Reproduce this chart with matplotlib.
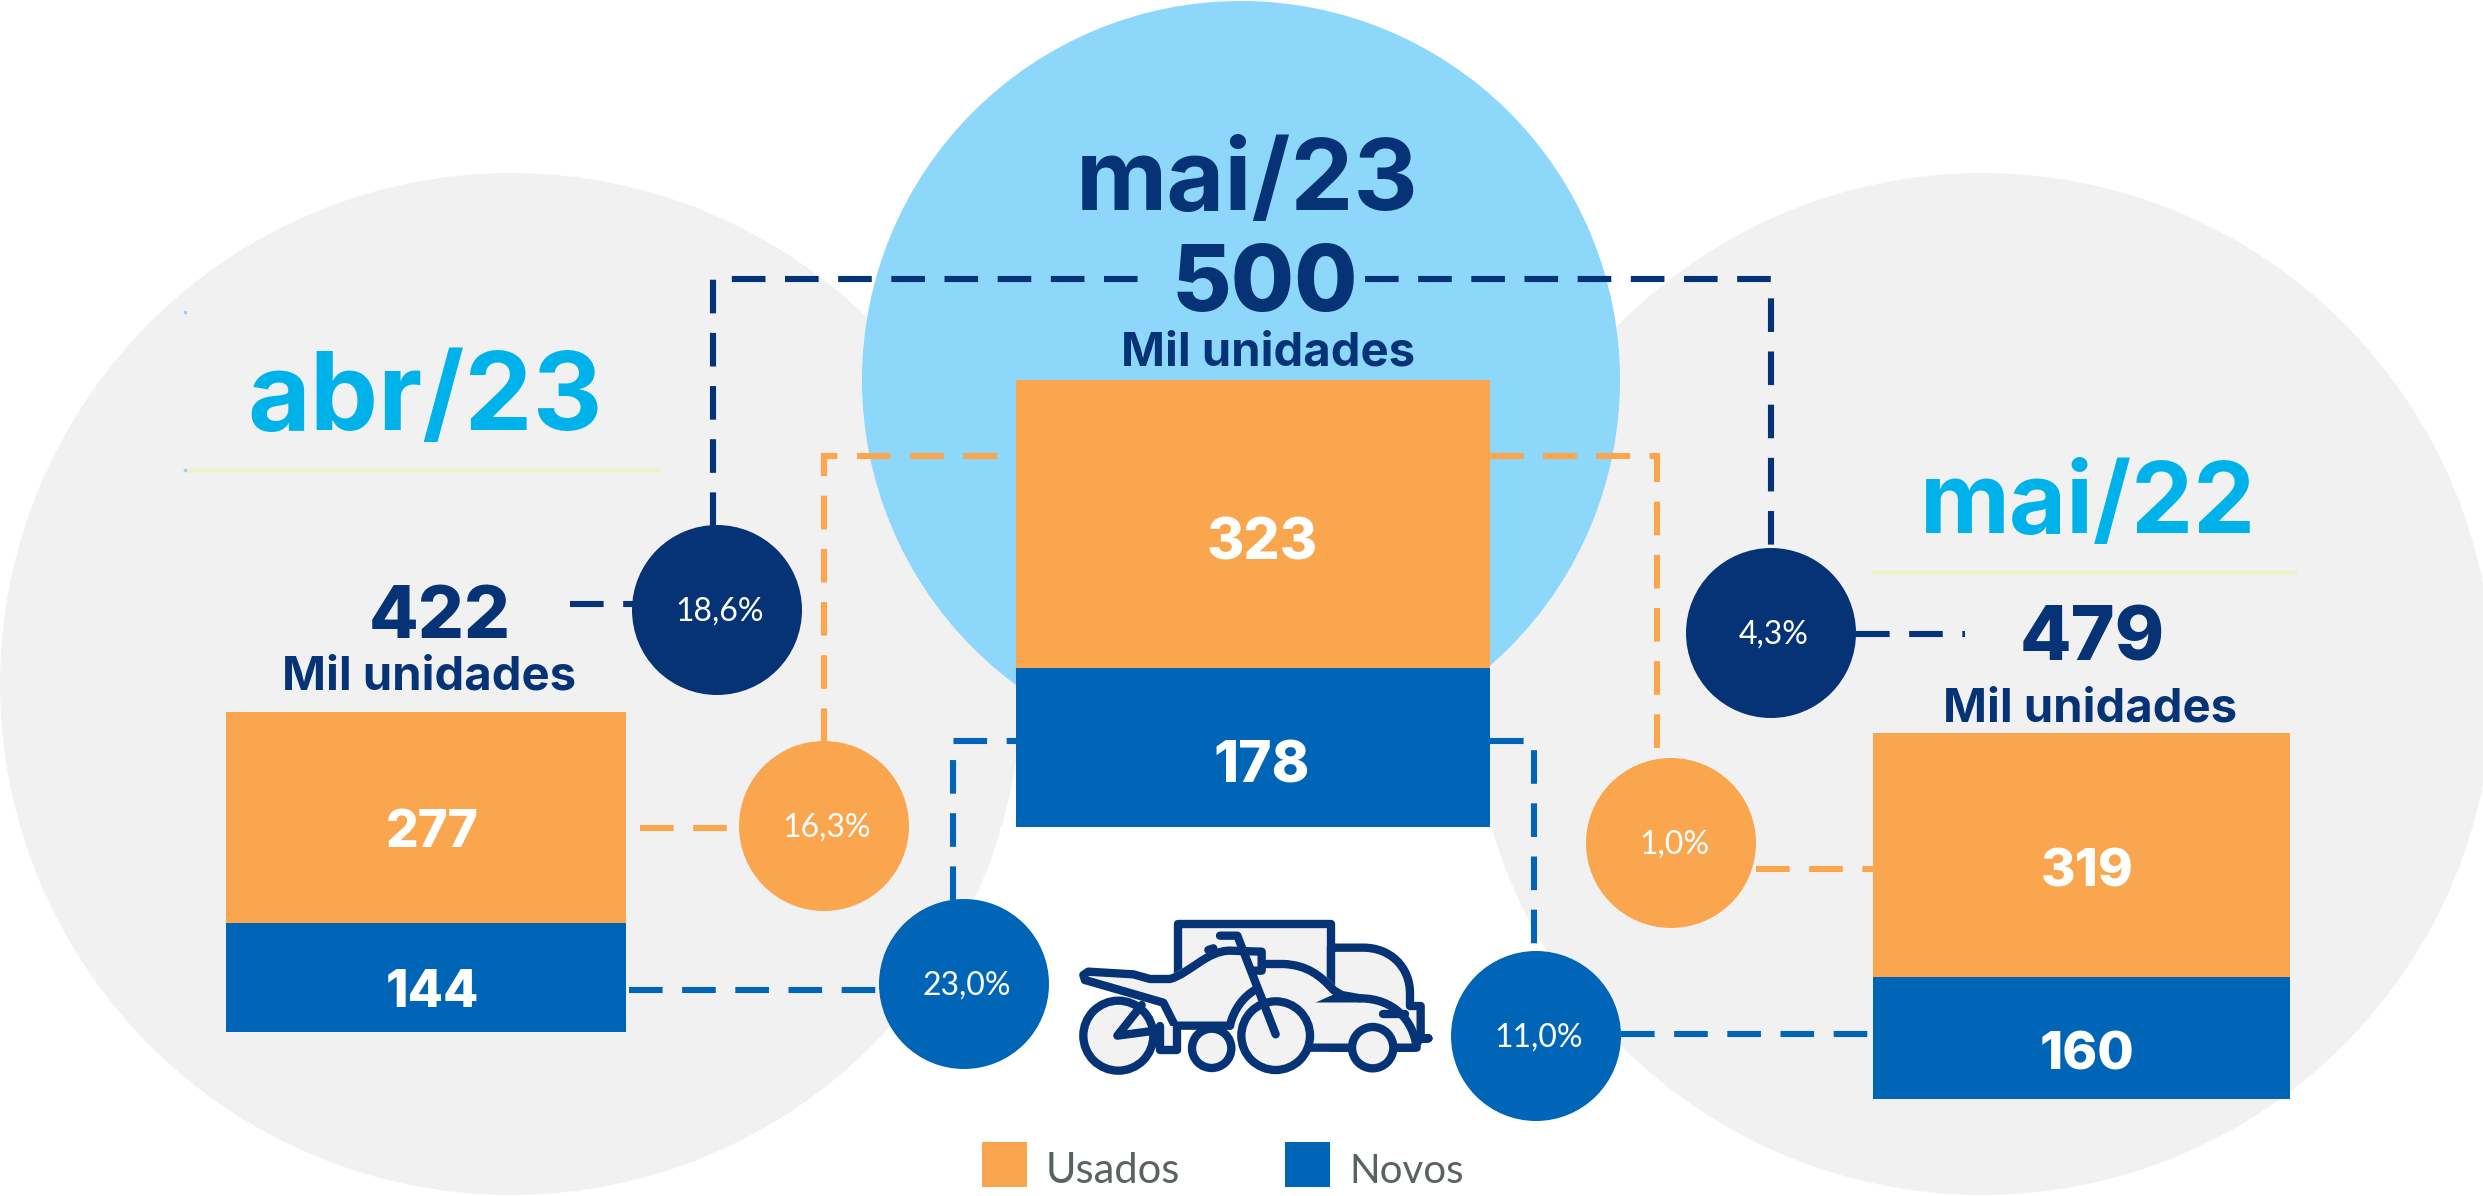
import matplotlib
matplotlib.use("Agg")
import matplotlib.pyplot as plt
from matplotlib.patches import Circle, PathPatch, Rectangle
from matplotlib.path import Path

NAVY = "#053375"
BLUE = "#0065B6"
ORANGE = "#FAA64F"
CYAN = "#00B2EA"
SKY = "#8DD7FB"
GRAY = "#F1F1F1"
FONT = "Inter"

periods = ["abr/23", "mai/23", "mai/22"]
totals = ["422", "500", "479"]
usados = [277, 323, 319]
novos = [144, 178, 160]
var_total = ["18,6%", "4,3%"]
var_usados = ["16,3%", "1,0%"]
var_novos = ["23,0%", "11,0%"]

fig = plt.figure(figsize=(24.83, 11.96), dpi=100)
ax = fig.add_axes([0, 0, 1, 1])
ax.set_xlim(0, 2483)
ax.set_ylim(1196, 0)
ax.axis("off")

# background circles
ax.add_patch(Circle((511, 684), 511, color=GRAY, lw=0, zorder=1))
ax.add_patch(Circle((1982, 684), 511, color=GRAY, lw=0, zorder=1))
ax.add_patch(Circle((1241, 380), 379, color=SKY, lw=0, zorder=2))
ax.add_patch(Rectangle((1000, 827), 480, 400, color="white", lw=0, zorder=2))


def dashed(xs, ys, color):
    ax.plot(xs, ys, color=color, lw=4.4, dashes=(5.5, 3.2), zorder=3,
            dash_capstyle="butt", dash_joinstyle="miter")


dashed([713, 713, 1155], [526, 279, 279], NAVY)
dashed([1365, 1771, 1771], [279, 279, 550], NAVY)
dashed([570, 633], [604, 604], NAVY)
dashed([1856, 1965], [634, 634], NAVY)
dashed([824, 824, 1014], [742, 456, 456], ORANGE)
dashed([1490, 1657, 1657], [456, 456, 760], ORANGE)
dashed([640, 740], [828, 828], ORANGE)
dashed([1756, 1873], [869, 869], ORANGE)
dashed([953, 953, 1016], [900, 741, 741], BLUE)
dashed([1490, 1534, 1534], [741, 741, 954], BLUE)
dashed([629, 879], [990, 990], BLUE)
dashed([1621, 1873], [1034, 1034], BLUE)


def stacked_bar(i, left, width, base, scale, size, dx, dy):
    # scale = pixels per thousand units, differs per panel in the original
    ax.bar(left, novos[i] * scale, width, bottom=base - novos[i] * scale,
           align="edge", color=BLUE, zorder=4)
    top = base - novos[i] * scale
    ax.bar(left, usados[i] * scale, width, bottom=top - usados[i] * scale,
           align="edge", color=ORANGE, zorder=4)
    ax.text(left + width / 2 + dx, top - usados[i] * scale / 2 + dy, str(usados[i]), color="white",
            fontsize=size, fontweight=800, family=FONT, ha="center", va="center_baseline", zorder=5)
    ax.text(left + width / 2 + dx, top + novos[i] * scale / 2 + dy, str(novos[i]), color="white",
            fontsize=size, fontweight=800, family=FONT, ha="center", va="center_baseline", zorder=5)


stacked_bar(0, 226, 400, 1032, 0.76, 37, 6, 11)
stacked_bar(1, 1016, 474, 827, 0.892, 41, 9, 14)
stacked_bar(2, 1873, 417, 1099, 0.765, 38, 6, 13)


def bubble(x, y, label, color):
    ax.add_patch(Circle((x, y), 85, color=color, lw=0, zorder=6))
    ax.text(x + 3, y + 2, label, color="white", fontsize=23, family="Lato",
            ha="center", va="center", zorder=7)


bubble(717, 610, var_total[0], NAVY)
bubble(1771, 633, var_total[1], NAVY)
bubble(824, 826, var_usados[0], ORANGE)
bubble(1671, 843, var_usados[1], ORANGE)
bubble(964, 984, var_novos[0], BLUE)
bubble(1536, 1036, var_novos[1], BLUE)

# titles
ax.text(425, 391, periods[0], color=CYAN, fontsize=78, fontweight="bold", family=FONT,
        ha="center", va="center_baseline", zorder=5)
ax.text(1247, 174, periods[1], color=NAVY, fontsize=72, fontweight="bold", family=FONT,
        ha="center", va="center_baseline", zorder=5)
ax.text(2088, 497, periods[2], color=CYAN, fontsize=71, fontweight="bold", family=FONT,
        ha="center", va="center_baseline", zorder=5)
ax.plot([185, 659], [470, 470], color="#EFF3C0", lw=2.5, zorder=3)
ax.plot([1873, 2295], [572, 572], color="#EFF3C0", lw=2.5, zorder=3)
ax.plot([185, 185], [312, 470], ls="none", marker="s", ms=1.5, color=SKY, zorder=3)

# totals
ax.text(440, 612, totals[0], color=NAVY, fontsize=52, fontweight=800, family=FONT,
        ha="center", va="center_baseline", zorder=5)
ax.text(1265, 278, totals[1], color=NAVY, fontsize=66, fontweight=800, family=FONT,
        ha="center", va="center_baseline", zorder=5)
ax.text(2092, 633, totals[2], color=NAVY, fontsize=54, fontweight=800, family=FONT,
        ha="center", va="center_baseline", zorder=5)
for x, y in [(429, 673), (1268, 348), (2090, 704)]:
    ax.text(x, y, "Mil unidades", color=NAVY, fontsize=34, fontweight="bold", family=FONT,
            ha="center", va="center_baseline", zorder=5)

# legend
ax.add_patch(Rectangle((982, 1142), 45, 45, color=ORANGE, lw=0, zorder=5))
ax.add_patch(Rectangle((1285, 1142), 45, 45, color=BLUE, lw=0, zorder=5))
ax.text(1046, 1183, "Usados", color="#5A6262", fontsize=30, family="Lato", va="baseline")
ax.text(1349, 1183, "Novos", color="#5A6262", fontsize=29, family="Lato", va="baseline")


# vehicle icon, points taken from a 3x crop with origin at (1000, 880)
def ip(x, y):
    return 1000 + x / 3, 880 + y / 3


def icon_line(points, codes=None, fill="none", z=8, edge=NAVY):
    verts = [ip(*p) for p in points]
    if codes is None:
        codes = [Path.MOVETO] + [Path.LINETO] * (len(verts) - 1)
    ax.add_patch(PathPatch(Path(verts, codes), facecolor=fill, edgecolor=edge, lw=6,
                           capstyle="round", joinstyle="round", zorder=z))


def icon_wheel(x, y, r):
    cx, cy = ip(x, y)
    ax.add_patch(Circle((cx, cy), r / 3, facecolor="#F2F2F2", edgecolor=NAVY, lw=6, zorder=9))


M, L, C = Path.MOVETO, Path.LINETO, Path.CURVE4
LIGHT = "#F2F2F2"
# truck
icon_line([(533, 300), (533, 133), (993, 133), (993, 330), (533, 330)], fill=LIGHT, z=7.5)
icon_line([(993, 203), (1090, 203), (1170, 203), (1230, 260), (1230, 340), (1230, 378), (1262, 378),
           (1262, 475), (1285, 475), (1262, 475), (1240, 503), (993, 503), (993, 203)],
          [M, L, C, C, C, L, L, L, L, L, L, L, L], fill=LIGHT, z=7.5)
# car
icon_line([(855, 355), (1080, 355), (1180, 355), (1240, 420), (1250, 503), (900, 503), (855, 355)],
          [M, L, C, C, C, L, L], fill=LIGHT, z=8.1)
icon_line([(1150, 402), (1215, 402)], z=8.2)
# motorcycle body, filled first, outlines on top
body = [(265, 285), (400, 283), (450, 297), (510, 297), (570, 280), (620, 212), (690, 212), (785, 215),
        (785, 252), (850, 252), (920, 255), (960, 285), (1000, 330), (800, 420), (690, 437), (525, 437),
        (490, 368), (255, 300), (265, 285)]
icon_line(body, [M, L, L, L, C, C, C, L, L, L, C, C, C, L, L, L, L, L, L], fill=LIGHT, z=8.3, edge=LIGHT)
icon_line([(255, 300), (250, 285), (265, 275), (400, 283), (450, 297), (510, 297), (570, 280), (620, 212),
           (690, 212), (785, 215), (785, 272), (760, 272)],
          [M, L, L, L, L, L, C, C, C, L, L, L], z=8.4)
icon_line([(790, 252), (850, 252), (920, 255), (960, 285), (1000, 330), (1025, 345), (1080, 355)],
          [M, L, C, C, C, L, L], z=8.4)
icon_line([(255, 300), (490, 368), (525, 437), (690, 437)], z=8.4)
icon_line([(625, 210), (640, 205)], z=8.4)
icon_line([(690, 437), (700, 390), (730, 350), (765, 330)], [M, C, C, C], z=8.4)
icon_wheel(355, 467, 105)
icon_wheel(635, 505, 59)
icon_wheel(827, 467, 103)
icon_wheel(1118, 503, 62)
icon_line([(425, 375), (352, 467), (480, 450)], z=10)
icon_line([(480, 437), (480, 510), (530, 510), (530, 437)], fill=LIGHT, z=10)
icon_line([(660, 167), (712, 167), (827, 463)], z=10)

fig.savefig("out.png", dpi=100, facecolor="white")
